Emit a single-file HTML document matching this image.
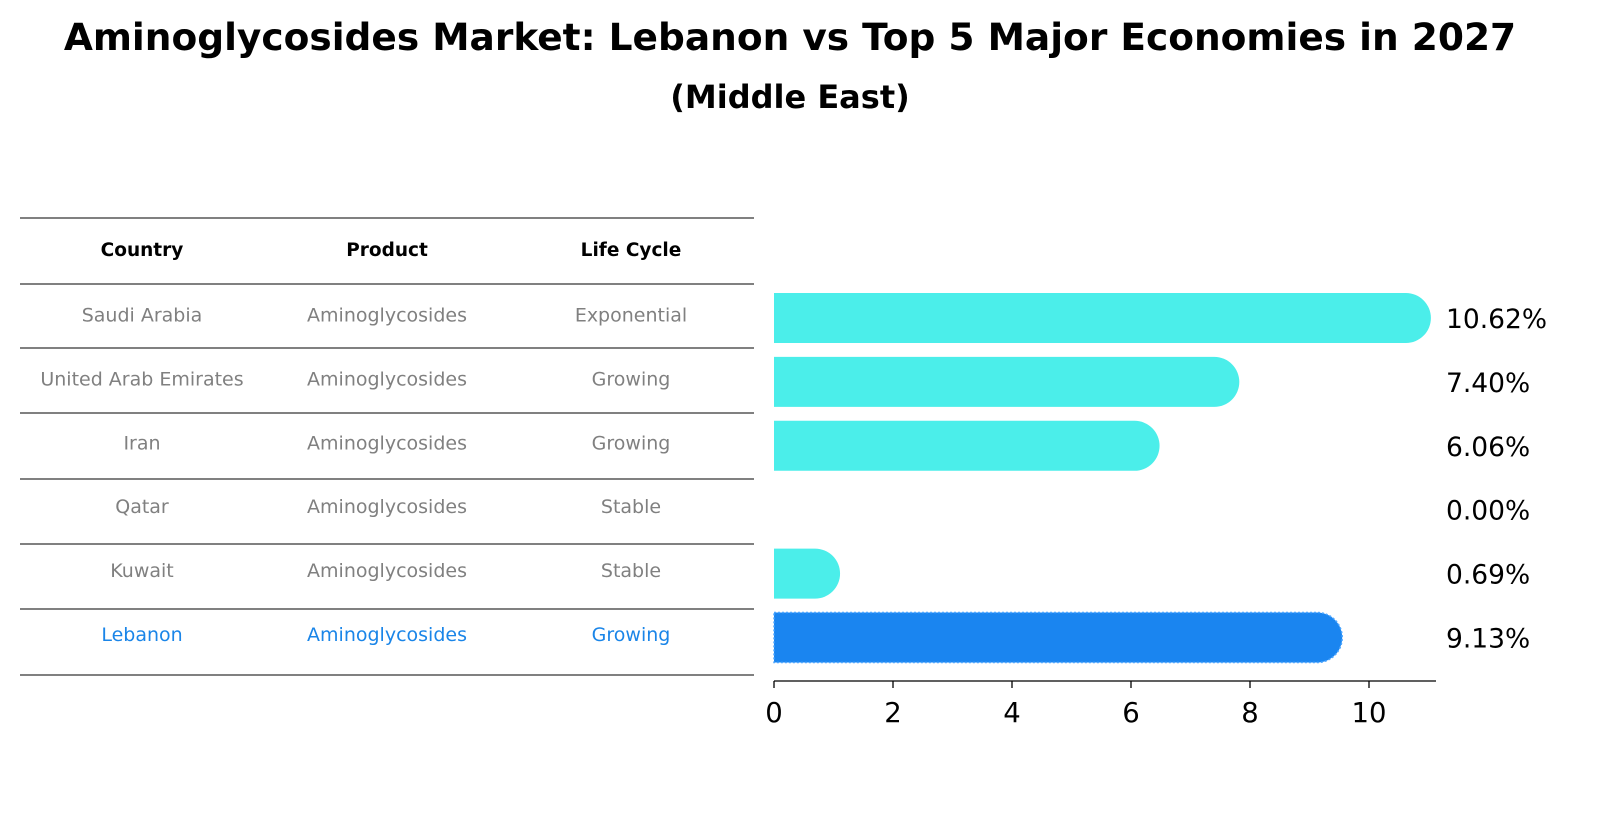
<!DOCTYPE html>
<html><head><meta charset="utf-8">
<style>
body{margin:0;background:#fff;font-family:"Liberation Sans","DejaVu Sans",sans-serif;}
svg text{font-family:"DejaVu Sans","Liberation Sans",sans-serif;}
</style></head>
<body>
<svg width="1604" height="823" viewBox="0 0 1604 823" xmlns="http://www.w3.org/2000/svg">
<text x="790" y="50" text-anchor="middle" font-size="37.5" font-weight="bold">Aminoglycosides Market: Lebanon vs Top 5 Major Economies in 2027</text>
<text x="790" y="108" text-anchor="middle" font-size="32" font-weight="bold">(Middle East)</text>
<g id="table"></g>
<g id="bars"></g>
<g id="axis"></g>
</svg>
<script>
const countries=["Saudi Arabia","United Arab Emirates","Iran","Qatar","Kuwait","Lebanon"];
const products=["Aminoglycosides","Aminoglycosides","Aminoglycosides","Aminoglycosides","Aminoglycosides","Aminoglycosides"];
const lifeCycles=["Exponential","Growing","Growing","Stable","Stable","Growing"];
const values=[10.62,7.40,6.06,0.00,0.69,9.13];
const ticks=[0,2,4,6,8,10];
const NS="http://www.w3.org/2000/svg";
function mk(t,a,p){const e=document.createElementNS(NS,t);for(const k in a)e.setAttribute(k,a[k]);p.appendChild(e);return e;}
const x0=774,ppu=59.5;
const xs=v=>x0+v*ppu;
const rowY=i=>318+i*63.9;
const tbl=document.getElementById('table');
const lines=[218,284,348,413,479,544,609,675];
lines.forEach(y=>{const l=mk('line',{x1:20,x2:754,y1:y,y2:y,stroke:'#000','stroke-width':0.9},tbl);

});
const colX=[142,387,631];
["Country","Product","Life Cycle"].forEach((h,j)=>{const t=mk('text',{x:colX[j],y:256,'text-anchor':'middle','font-size':18.5,'font-weight':'bold'},tbl);t.textContent=h;

});
countries.forEach((c,i)=>{const col=i===5?'#1a85e8':'#808080';
[c,products[i],lifeCycles[i]].forEach((v,j)=>{const t=mk('text',{x:colX[j],y:rowY(i)+3.5,'text-anchor':'middle','font-size':19,fill:col},tbl);t.textContent=v;

});});
const bg=document.getElementById('bars');
const h=50,r=25;
values.forEach((v,i)=>{const y=rowY(i)-h/2;const col=i===5?'#1a85f0':'#4beeea';
if(v>0){const xe=xs(v);
const p=mk('path',{d:`M${x0},${y} H${xe} A${r},${r} 0 0 1 ${xe},${y+h} H${x0} Z`,fill:col},bg);
if(i===5){p.setAttribute('stroke','#4da6ff');p.setAttribute('stroke-dasharray','2,2');p.setAttribute('stroke-width','1.5');}

}
const t=mk('text',{x:1446,y:rowY(i)+10,'font-size':26.5},bg);t.textContent=v.toFixed(2)+'%';

});
const ax=document.getElementById('axis');
mk('line',{x1:x0,x2:1436,y1:681,y2:681,stroke:'#000','stroke-width':1.3},ax);
ticks.forEach(tv=>{const x=xs(tv);mk('line',{x1:x,x2:x,y1:681,y2:688,stroke:'#000','stroke-width':1.3},ax);
const t=mk('text',{x:x,y:722,'text-anchor':'middle','font-size':27.5},ax);t.textContent=tv;

});
</script>
</body></html>
